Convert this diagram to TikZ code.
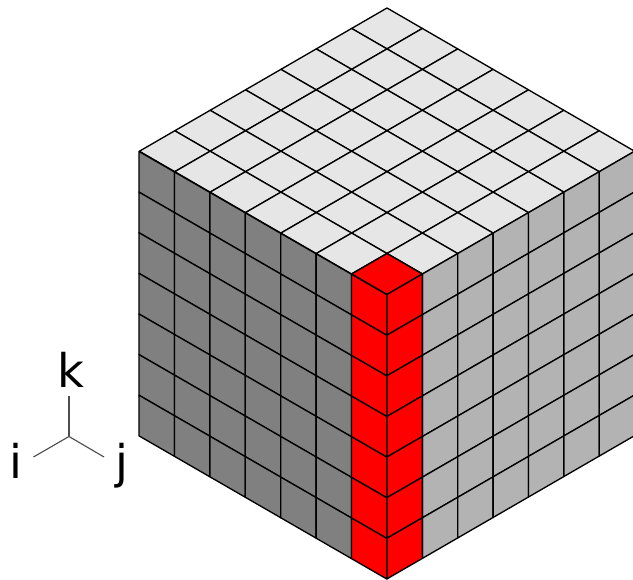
\documentclass[tikz,border=0pt]{standalone}
\usepackage{fontspec}
\setmainfont{DejaVu Sans}
\definecolor{topgrey}{HTML}{E6E6E6}
\definecolor{leftgrey}{HTML}{808080}
\definecolor{rightgrey}{HTML}{B3B3B3}
\definecolor{cellred}{HTML}{FF0000}
\definecolor{axisgrey}{HTML}{4D4D4D}
\usetikzlibrary{positioning}
\tikzset{
  cell_top/.style={draw=black,fill=topgrey,line width=0.38pt,line join=round},
  cell_left/.style={draw=black,fill=leftgrey,line width=0.38pt,line join=round},
  cell_right/.style={draw=black,fill=rightgrey,line width=0.38pt,line join=round},
  cell_red/.style={draw=black,fill=cellred,line width=0.38pt,line join=round},
  axis_line/.style={draw=axisgrey,line width=0.32pt},
  axis_label/.style={font=\fontsize{13.2}{15}\selectfont,inner sep=0pt,text=black},
}
\newcommand{\cellat}[3]{\draw[#1] (#2,#3) -- ++(1,0) -- ++(0,1) -- ++(-1,0) -- cycle;}
\begin{document}
\begin{tikzpicture}[x=0.01cm,y=-0.01cm]
  \useasboundingbox (0,0) rectangle (633,580);

  % top face
  \begin{scope}[shift={(387,8)},x={(0.3535cm,-0.2045cm)},y={(-0.3535cm,-0.2045cm)}]
    \foreach \a in {0,...,6}
      \foreach \b in {0,...,6}
        {\cellat{cell_top}{\a}{\b}}
    \cellat{cell_red}{6}{6}
  \end{scope}

  % left face
  \begin{scope}[shift={(139,151.5)},x={(0.3540cm,-0.2045cm)},y={(0cm,-0.4060cm)}]
    \foreach \a in {0,...,5}
      \foreach \b in {0,...,6}
        {\cellat{cell_left}{\a}{\b}}
    \foreach \b in {0,...,6}
      {\cellat{cell_red}{6}{\b}}
  \end{scope}

  % right face
  \begin{scope}[shift={(387,294.5)},x={(0.3535cm,0.2045cm)},y={(0cm,-0.4060cm)}]
    \foreach \a in {1,...,6}
      \foreach \b in {0,...,6}
        {\cellat{cell_right}{\a}{\b}}
    \foreach \b in {0,...,6}
      {\cellat{cell_red}{0}{\b}}
  \end{scope}

  % axes
  \coordinate (origin) at (69,436.5);
  \coordinate (kend) at (69,396);
  \coordinate (iend) at (33.5,457);
  \coordinate (jend) at (104,457);
  \draw[axis_line] (origin) -- (kend);
  \draw[axis_line] (origin) -- (iend);
  \draw[axis_line] (origin) -- (jend);
  \node[axis_label,anchor=base] (klabel) at (70.5,388) {k};
  \node[axis_label,anchor=base] (ilabel) at (16,478.5) {i};
  \node[axis_label,anchor=base] (jlabel) at (122,478.5) {j};
\end{tikzpicture}
\end{document}
